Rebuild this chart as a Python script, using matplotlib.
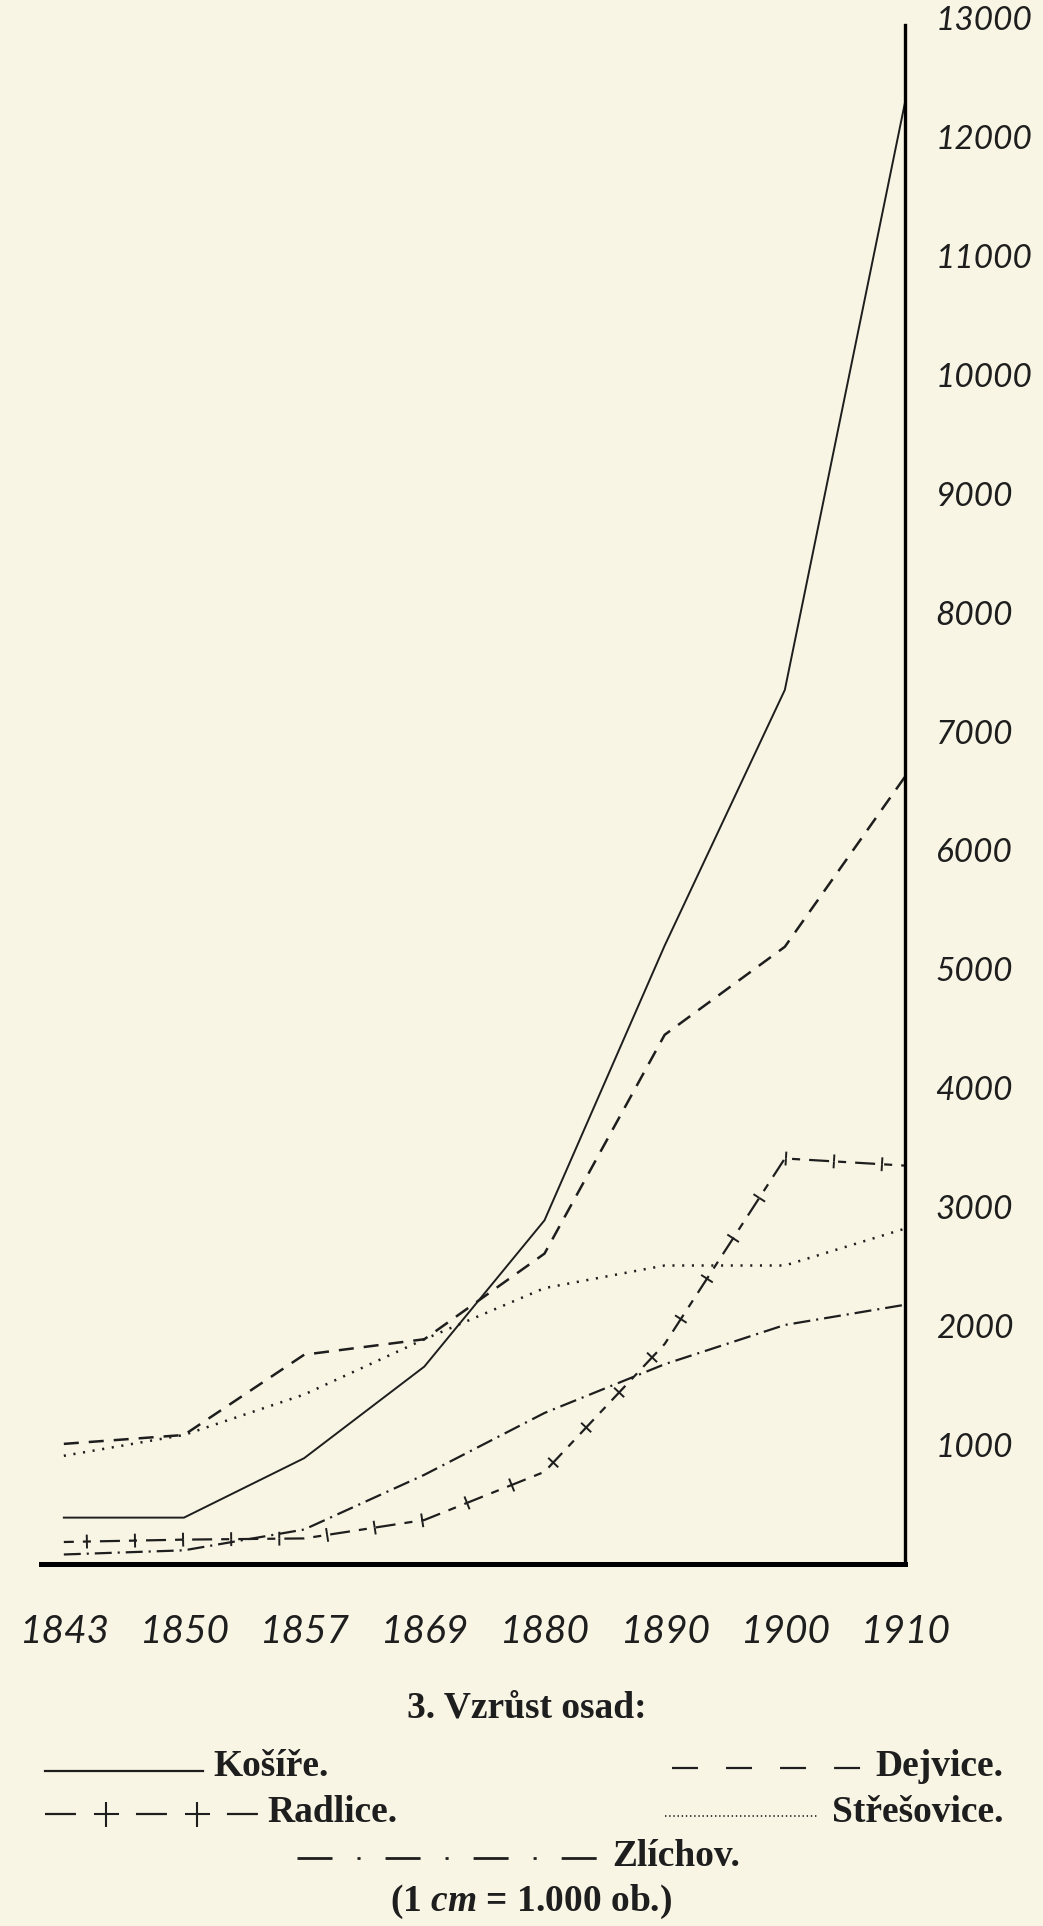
"""
Vzrůst osad 1843-1910: Košíře, Dejvice, Radlice, Střešovice, Zlíchov
"""
import numpy as np
import matplotlib.pyplot as plt
import matplotlib.patheffects as pe

years = ['1843', '1850', '1857', '1869', '1880', '1890', '1900', '1910']
kosire = [390, 390, 890, 1660, 2890, 5200, 7350, 12290]
dejvice = [1010, 1085, 1760, 1890, 2610, 4450, 5190, 6620]
radlice = [185, 205, 215, 370, 775, 1850, 3410, 3350]
stresovice = [910, 1085, 1425, 1890, 2320, 2510, 2510, 2820]
zlichov = [80, 115, 290, 750, 1270, 1680, 2010, 2180]
yticks = np.arange(1000, 13001, 1000)

paper = '#f8f5e4'
ink = '#1e1e1e'
hand = ['Lato', 'DejaVu Sans']
serif = 'Liberation Serif'

plt.rcParams['lines.scale_dashes'] = False
plt.rcParams['mathtext.fontset'] = 'custom'
plt.rcParams['mathtext.it'] = 'Liberation Serif:italic:bold'

W, H = 1043, 1926
fig = plt.figure(figsize=(W / 100, H / 100), dpi=100, facecolor=paper)


def box(left, top, right, bottom):
    # pixel box -> figure fraction
    return [left / W, 1 - bottom / H, (right - left) / W, (bottom - top) / H]


ax = fig.add_axes(box(41, 18, 905, 1564))
ax.set_facecolor('none')
x = np.arange(len(years))

ax.plot(x, kosire, color=ink, lw=1.4)
ax.plot(x, dejvice, color=ink, lw=1.8, dashes=(10.8, 7.2))
ax.plot(x, stresovice, color=ink, lw=1.8, dashes=(1.5, 5.5))
ax.plot(x, zlichov, color=ink, lw=1.6, dashes=(12.2, 4.3, 1.5, 4.3))
plus = [pe.TickedStroke(angle=a, spacing=33.2, length=0.15, linewidth=1.4,
                        dashes=dict(dash_offset=0, dash_list=None))
        for a in (90, -90)]
ax.plot(x, radlice, color=ink, lw=1.6, linestyle=(7.2, (14.4, 6.5, 5.8, 6.5)),
        path_effects=[pe.Normal()] + plus)

ax.set_xlim(-0.19, 7)
ax.set_ylim(0, 13000)
ax.spines[['top', 'left']].set_visible(False)
ax.spines['bottom'].set_linewidth(3.6)
ax.spines['right'].set_linewidth(2.4)
ax.spines['right'].set_bounds(0, 12940)
ax.yaxis.tick_right()
ax.set_yticks(yticks, [str(v) for v in yticks])
ax.set_xticks(x, years)
ax.tick_params(length=0, colors=ink)
ax.tick_params(axis='y', pad=22, labelsize=24)
ax.tick_params(axis='x', pad=36, labelsize=28)
for lab in ax.get_yticklabels() + ax.get_xticklabels():
    lab.set_family(hand)
    lab.set_style('italic')
    lab.set_weight('normal')

# caption and legend underneath
cap = fig.add_axes([0, 0, 1, 1])
cap.set_xlim(0, W)
cap.set_ylim(H, 0)
cap.axis('off')

tkw = dict(family=serif, weight='bold', fontsize=27, color=ink, va='center')
cap.text(527, 1708, '3. Vzrůst osad:', ha='center', **tkw)
cap.text(213, 1766, 'Košíře.', ha='left', **tkw)
cap.text(1003, 1766, 'Dejvice.', ha='right', **tkw)
cap.text(267, 1812, 'Radlice.', ha='left', **tkw)
cap.text(1003, 1812, 'Střešovice.', ha='right', **tkw)
cap.text(612, 1856, 'Zlíchov.', ha='left', **tkw)
cap.text(531, 1902, '(1 $cm$ = 1.000 ob.)', ha='center', **tkw)

lkw = dict(color=ink, lw=1.6)
cap.plot([45, 203], [1771, 1771], **lkw)
cap.plot([672, 863], [1768, 1768], dashes=(18.7, 20.2), **lkw)
cap.plot([45, 258], [1814, 1814], dashes=(22.3, 43.2), **lkw)
cap.plot([106, 197], [1814, 1814], ls='none', marker='+', ms=18, mew=1.5, color=ink)
cap.plot([665, 817], [1816, 1816], dashes=(1, 2), color=ink, lw=1.2)
cap.plot([297, 598], [1858, 1858], dashes=(25.2, 18, 2.2, 18), color=ink, lw=2)

fig.savefig('out.png', dpi=100, facecolor=paper)
